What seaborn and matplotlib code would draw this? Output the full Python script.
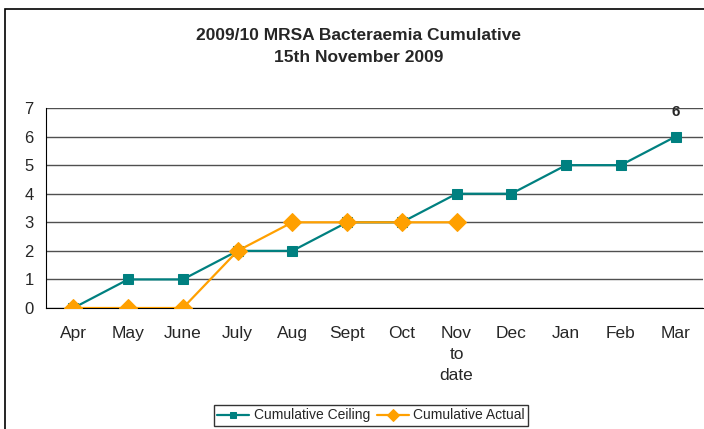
import pandas as pd
import matplotlib
matplotlib.use("Agg")
import matplotlib.pyplot as plt
import seaborn as sns
from matplotlib.patches import Rectangle

# Data
months = ["Apr", "May", "June", "July", "Aug", "Sept", "Oct", "Nov\nto\ndate",
          "Dec", "Jan", "Feb", "Mar"]
ceiling = [0, 1, 1, 2, 2, 3, 3, 4, 4, 5, 5, 6]
actual = [0, 0, 0, 2, 3, 3, 3, 3]

df_ceiling = pd.DataFrame({"pos": range(len(ceiling)), "value": ceiling})
df_actual = pd.DataFrame({"pos": range(len(actual)), "value": actual})

sns.set_style("white")
plt.rcParams["font.family"] = ["Liberation Sans", "DejaVu Sans"]

fig = plt.figure(figsize=(7.04, 4.29), dpi=100)
ax = fig.add_axes([46 / 704, 1 - 308 / 429, 657 / 704, 200 / 429])

teal = "#008080"
orange = "#FFA000"
sns.lineplot(data=df_ceiling, x="pos", y="value", ax=ax, color=teal, lw=1.6,
             marker="s", markersize=7, markeredgecolor=teal, sort=False,
             label="Cumulative Ceiling", zorder=3)
sns.lineplot(data=df_actual, x="pos", y="value", ax=ax, color=orange, lw=1.6,
             marker="D", markersize=9, markeredgecolor=orange, sort=False,
             label="Cumulative Actual", zorder=4)

ax.annotate(str(ceiling[-1]), (len(ceiling) - 1, ceiling[-1]), xytext=(0, 13),
            textcoords="offset points", ha="center", va="bottom",
            fontsize=11, fontweight="bold")

ax.set_xlim(-0.5, len(months) - 0.5)
ax.set_ylim(0, 7)
ax.set_yticks(range(0, 8))
ax.set_xticks(range(len(months)))
ax.set_xticklabels(months, fontsize=12.5, linespacing=1.5)
ax.set_xticks([i + 0.5 for i in range(-1, len(months))], minor=True)
ax.tick_params(axis="x", which="major", length=0, pad=13)
ax.tick_params(axis="x", which="minor", length=5, width=1, color="black", direction="out")
ax.tick_params(axis="y", length=5, width=1, color="black", direction="out", labelsize=12, pad=4)
ax.yaxis.grid(True, color="#505050", lw=1)
ax.set_axisbelow(True)
ax.set_xlabel("")
ax.set_ylabel("")
for side in ["top", "right"]:
    ax.spines[side].set_visible(False)
ax.spines["left"].set_color("black")
ax.spines["bottom"].set_color("black")

ax.get_legend().remove()
handles, labels = ax.get_legend_handles_labels()
leg = fig.legend(handles, labels, loc="upper center", ncol=2,
                 bbox_to_anchor=(371 / 704, 1 - 405 / 429), fontsize=10,
                 frameon=True, fancybox=False, edgecolor="black",
                 handlelength=2.3, columnspacing=0.5, handletextpad=0.3,
                 borderpad=0.25, borderaxespad=0, markerscale=0.7)
leg.get_frame().set_linewidth(1)

fig.text(359 / 704, 1 - 36 / 429, "2009/10 MRSA Bacteraemia Cumulative",
         ha="center", va="center", fontsize=12.5, fontweight="bold")
fig.text(359 / 704, 1 - 58 / 429, "15th November 2009",
         ha="center", va="center", fontsize=12.5, fontweight="bold")

# outer chart border
fig.patches.append(Rectangle((5 / 704, -0.1), 1.1, 1 - 9 / 429 + 0.1,
                             transform=fig.transFigure, fill=False,
                             edgecolor="black", lw=1.2))

fig.savefig("out.png", dpi=100)
